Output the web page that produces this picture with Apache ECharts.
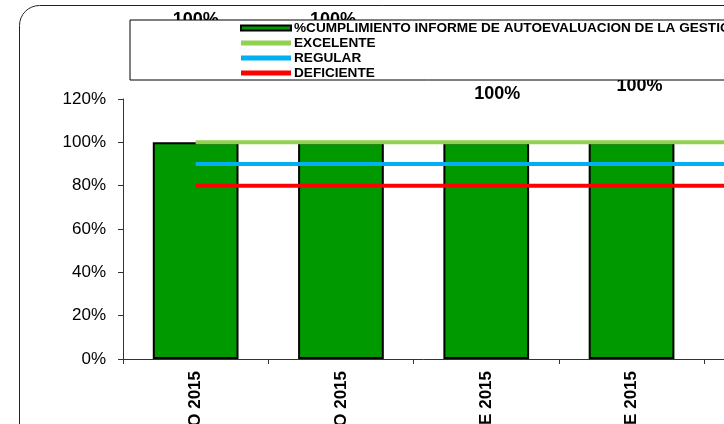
<!DOCTYPE html>
<html>
<head>
<meta charset="utf-8">
<script src="https://cdn.jsdelivr.net/npm/echarts@6/dist/echarts.min.js"></script>
<style>
  html, body { margin: 0; padding: 0; background: #fff; }
  #chart { width: 724px; height: 424px; }
</style>
</head>
<body>
<div id="chart"></div>
<script>
// Cumplimiento informe de autoevaluacion - 2015
var categories = ['MARZO 2015', 'JUNIO 2015', 'SEPTIEMBRE 2015', 'DICIEMBRE 2015', 'MARZO 2016'];
var cumplimiento = [100, 100, 100, 100, 100];
var excelente = [100, 100, 100, 100, 100];
var regular = [90, 90, 90, 90, 90];
var deficiente = [80, 80, 80, 80, 80];
var yTicks = [0, 20, 40, 60, 80, 100, 120];

(function() {
  var font = '"Liberation Sans", Arial, sans-serif';
  // data labels were dragged around by hand in the original sheet
  var labelNudge = [[0, -108], [-8, -108], [11, -34], [8, -42], [0, 0]];

  var chart = echarts.init(document.getElementById('chart'), null, { renderer: 'canvas' });
  chart.setOption({
    animation: false,
    textStyle: { fontFamily: font },
    graphic: [{
      type: 'rect',
      z: -1,
      shape: { x: 19.5, y: 5.5, width: 900, height: 900, r: 20 },
      style: { fill: 'none', stroke: '#222', lineWidth: 1 }
    }],
    legend: {
      orient: 'vertical',
      left: 130,
      top: 20,
      padding: [1, 40, 0, 110],
      itemGap: 1,
      itemWidth: 50,
      itemHeight: 5,
      icon: 'rect',
      backgroundColor: '#fff',
      borderColor: '#000',
      borderWidth: 1,
      textStyle: { fontFamily: font, fontWeight: 'bold', fontSize: 13.6, color: '#000', padding: [0, 0, 0, -2] },
      data: ['%CUMPLIMIENTO INFORME DE AUTOEVALUACION DE LA GESTION', 'EXCELENTE', 'REGULAR', 'DEFICIENTE']
    },
    grid: { left: 123, top: 99, width: 145.3 * categories.length, height: 260, outerBoundsMode: 'none', containLabel: false },
    xAxis: {
      type: 'category',
      data: categories,
      axisLine: { lineStyle: { color: '#333', width: 1 } },
      axisTick: { show: true, length: 5, lineStyle: { color: '#333' } },
      axisLabel: {
        rotate: 90, interval: 0, margin: 12, hideOverlap: false,
        fontFamily: font, fontWeight: 'bold', fontSize: 17, color: '#000'
      }
    },
    yAxis: {
      type: 'value',
      min: yTicks[0],
      max: yTicks[yTicks.length - 1],
      interval: yTicks[1] - yTicks[0],
      axisLine: { show: true, lineStyle: { color: '#333', width: 1 } },
      axisTick: { show: true, length: 5, lineStyle: { color: '#333' } },
      splitLine: { show: false },
      axisLabel: { formatter: '{value}%', margin: 17, fontFamily: font, fontSize: 17, color: '#000' }
    },
    series: [
      {
        name: '%CUMPLIMIENTO INFORME DE AUTOEVALUACION DE LA GESTION',
        type: 'bar',
        barCategoryGap: '41%',
        itemStyle: { color: '#009900', borderColor: '#000', borderWidth: 2 },
        label: {
          show: true, position: 'top', formatter: '{c}%',
          fontFamily: font, fontWeight: 'bold', fontSize: 18, color: '#000'
        },
        data: cumplimiento.map(function(v, i) {
          return { value: v, label: { offset: labelNudge[i] } };
        })
      },
      {
        name: 'EXCELENTE', type: 'line', symbol: 'none', z: 3,
        lineStyle: { color: '#92D050', width: 4 }, itemStyle: { color: '#92D050' },
        data: excelente
      },
      {
        name: 'REGULAR', type: 'line', symbol: 'none', z: 3,
        lineStyle: { color: '#00B0F0', width: 4 }, itemStyle: { color: '#00B0F0' },
        data: regular
      },
      {
        name: 'DEFICIENTE', type: 'line', symbol: 'none', z: 3,
        lineStyle: { color: '#FF0000', width: 4 }, itemStyle: { color: '#FF0000' },
        data: deficiente
      }
    ]
  });
  window.addEventListener('resize', function() { chart.resize(); });
})();
</script>
</body>
</html>
